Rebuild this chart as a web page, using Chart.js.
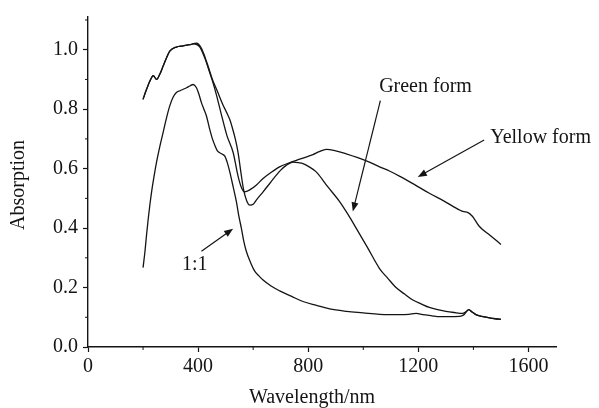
<!DOCTYPE html>
<html>
<head>
<meta charset="utf-8">
<script src="https://cdn.jsdelivr.net/npm/chart.js@4.4.1/dist/chart.umd.min.js"></script>
<style>
  html, body { margin: 0; padding: 0; background: #fff; }
  #wrap { width: 599px; height: 408px; }
</style>
</head>
<body>
<div id="wrap"><canvas id="absChart"></canvas></div>
<script>
// wavelength (nm) / absorption
var yellowX = [200, 210, 225, 237, 249, 262, 273, 285, 297, 321, 345, 370, 385, 405, 425, 436, 452, 466, 485, 505, 527, 545, 558, 569, 590, 612, 636, 666, 696, 727, 757, 787, 817, 840, 865, 900, 938, 980, 1022, 1059, 1095, 1131, 1185, 1240, 1295, 1349, 1365, 1379, 1397, 1421, 1460, 1500];
var yellowY = [0.833, 0.86, 0.895, 0.913, 0.90, 0.92, 0.945, 0.972, 0.995, 1.009, 1.013, 1.017, 1.02, 1.01, 0.97, 0.94, 0.895, 0.85, 0.78, 0.71, 0.655, 0.575, 0.535, 0.522, 0.53, 0.545, 0.567, 0.588, 0.606, 0.618, 0.628, 0.637, 0.647, 0.657, 0.665, 0.66, 0.65, 0.637, 0.622, 0.606, 0.592, 0.575, 0.547, 0.517, 0.49, 0.461, 0.455, 0.453, 0.439, 0.406, 0.376, 0.345];

var greenX = [200, 210, 225, 237, 249, 262, 273, 285, 297, 321, 345, 370, 394, 412, 425, 436, 452, 470, 490, 503, 515, 525, 535, 545, 555, 565, 577, 588, 600, 612, 636, 660, 684, 700, 720, 744, 765, 781, 805, 829, 870, 914, 945, 974, 1015, 1059, 1090, 1119, 1150, 1180, 1210, 1240, 1270, 1300, 1330, 1361, 1372, 1383, 1395, 1409, 1430, 1458, 1480, 1500];
var greenY = [0.833, 0.86, 0.895, 0.913, 0.90, 0.92, 0.945, 0.972, 0.995, 1.009, 1.013, 1.017, 1.022, 1.005, 0.975, 0.945, 0.90, 0.86, 0.815, 0.79, 0.765, 0.735, 0.70, 0.655, 0.59, 0.53, 0.49, 0.477, 0.48, 0.495, 0.522, 0.55, 0.578, 0.595, 0.611, 0.622, 0.62, 0.617, 0.605, 0.589, 0.54, 0.489, 0.445, 0.40, 0.335, 0.264, 0.23, 0.20, 0.178, 0.158, 0.145, 0.133, 0.126, 0.12, 0.116, 0.113, 0.118, 0.126, 0.118, 0.109, 0.103, 0.098, 0.095, 0.093];

var mixX = [200, 207, 213, 219, 225, 231, 240, 249, 261, 273, 285, 297, 309, 321, 334, 346, 358, 370, 382, 394, 403, 412, 421, 430, 442, 452, 461, 470, 485, 497, 506, 515, 527, 539, 548, 557, 566, 575, 590, 605, 620, 636, 665, 696, 740, 781, 830, 878, 940, 999, 1059, 1095, 1131, 1165, 1192, 1216, 1250, 1276, 1310, 1349, 1365, 1383, 1395, 1409, 1430, 1458, 1480, 1500];
var mixY = [0.267, 0.322, 0.38, 0.433, 0.48, 0.522, 0.575, 0.622, 0.675, 0.722, 0.77, 0.811, 0.84, 0.856, 0.862, 0.867, 0.872, 0.878, 0.883, 0.872, 0.85, 0.822, 0.80, 0.778, 0.733, 0.70, 0.678, 0.66, 0.65, 0.642, 0.62, 0.589, 0.54, 0.489, 0.44, 0.40, 0.355, 0.322, 0.285, 0.256, 0.24, 0.225, 0.205, 0.189, 0.17, 0.153, 0.14, 0.128, 0.12, 0.115, 0.11, 0.109, 0.109, 0.11, 0.113, 0.109, 0.105, 0.102, 0.102, 0.103, 0.108, 0.126, 0.118, 0.109, 0.103, 0.098, 0.095, 0.093];

var xTicks = [0, 400, 800, 1200, 1600];
var yTicks = [0, 0.2, 0.4, 0.6, 0.8, 1.0];

// arrows: [label, textX, textY, align, fromX, fromY, toX, toY]
var notes = [
	["Green form", 1226, 0.876, "center", 1062, 0.829, 962, 0.456],
	["Yellow form", 1461, 0.705, "left", 1439, 0.696, 1198, 0.572],
	["1:1", 388, 0.276, "center", 412, 0.322, 527, 0.398]
];

var FONT = '"Liberation Serif", "Times New Roman", serif';
var INK = "#141414";

function pts(xs, ys) {
	return xs.map(function (x, i) { return { x: x, y: ys[i] }; });
}

function lineSet(label, xs, ys) {
	return {
		label: label,
		data: pts(xs, ys),
		borderColor: INK,
		borderWidth: 1.3,
		pointRadius: 0,
		fill: false,
		cubicInterpolationMode: "monotone"
	};
}

var extras = {
	id: "extras",
	afterDraw: function (chart) {
		var c = chart.ctx, sx = chart.scales.x, sy = chart.scales.y;
		var area = chart.chartArea;
		c.save();
		c.strokeStyle = INK;
		c.fillStyle = INK;
		c.lineWidth = 1;

		// minor ticks
		c.beginPath();
		for (var v = 200; v < 1700; v += 400) {
			var px = sx.getPixelForValue(v);
			c.moveTo(px, area.bottom);
			c.lineTo(px, area.bottom + 3);
		}
		for (var w = 0.1; w < 1.11; w += 0.2) {
			var py = sy.getPixelForValue(w);
			c.moveTo(area.left, py);
			c.lineTo(area.left - 3, py);
		}
		c.stroke();

		// annotations
		c.font = "20px " + FONT;
		c.textBaseline = "middle";
		c.lineWidth = 1.2;
		notes.forEach(function (n) {
			c.textAlign = n[3];
			c.fillText(n[0], sx.getPixelForValue(n[1]), sy.getPixelForValue(n[2]));
			var x0 = sx.getPixelForValue(n[4]), y0 = sy.getPixelForValue(n[5]);
			var x1 = sx.getPixelForValue(n[6]), y1 = sy.getPixelForValue(n[7]);
			var ang = Math.atan2(y1 - y0, x1 - x0);
			c.beginPath();
			c.moveTo(x0, y0);
			c.lineTo(x1 - 6 * Math.cos(ang), y1 - 6 * Math.sin(ang));
			c.stroke();
			c.beginPath();
			c.moveTo(x1, y1);
			c.lineTo(x1 - 9 * Math.cos(ang) + 3.5 * Math.sin(ang), y1 - 9 * Math.sin(ang) - 3.5 * Math.cos(ang));
			c.lineTo(x1 - 9 * Math.cos(ang) - 3.5 * Math.sin(ang), y1 - 9 * Math.sin(ang) + 3.5 * Math.cos(ang));
			c.closePath();
			c.fill();
		});

		// axis titles
		c.textAlign = "center";
		c.fillText("Wavelength/nm", 312, 398);
		c.translate(19, 185);
		c.rotate(-Math.PI / 2);
		c.fillText("Absorption", 0, 0);
		c.restore();
	}
};

var ctx = document.getElementById("absChart");
var myChart = new Chart(ctx, {
	type: "line",
	data: {
		datasets: [
			lineSet("Yellow form", yellowX, yellowY),
			lineSet("Green form", greenX, greenY),
			lineSet("1:1", mixX, mixY)
		]
	},
	options: {
		responsive: true,
		maintainAspectRatio: false,
		animation: false,
		layout: { padding: { top: 14, right: 43, left: 0, bottom: 0 } },
		plugins: {
			legend: { display: false },
			tooltip: { enabled: false }
		},
		scales: {
			x: {
				type: "linear",
				min: 0,
				max: 1700,
				afterFit: function (s) { s.height = 61; },
				afterBuildTicks: function (s) {
					s.ticks = xTicks.map(function (v) { return { value: v }; });
				},
				grid: { drawOnChartArea: false, color: INK, tickLength: 5, tickWidth: 1.2 },
				border: { color: INK, width: 1.4 },
				ticks: {
					color: INK,
					padding: 3,
					maxRotation: 0,
					font: { family: FONT, size: 20 },
					callback: function (v) { return String(v); }
				}
			},
			y: {
				min: 0,
				max: 1.11,
				afterFit: function (s) { s.width = 88; },
				afterBuildTicks: function (s) {
					s.ticks = yTicks.map(function (v) { return { value: v }; });
				},
				grid: { drawOnChartArea: false, color: INK, tickLength: 5, tickWidth: 1.2 },
				border: { color: INK, width: 1.4 },
				ticks: {
					color: INK,
					padding: 5,
					font: { family: FONT, size: 20 },
					callback: function (v) { return Number(v).toFixed(1); }
				}
			}
		}
	},
	plugins: [extras]
});
</script>
</body>
</html>
